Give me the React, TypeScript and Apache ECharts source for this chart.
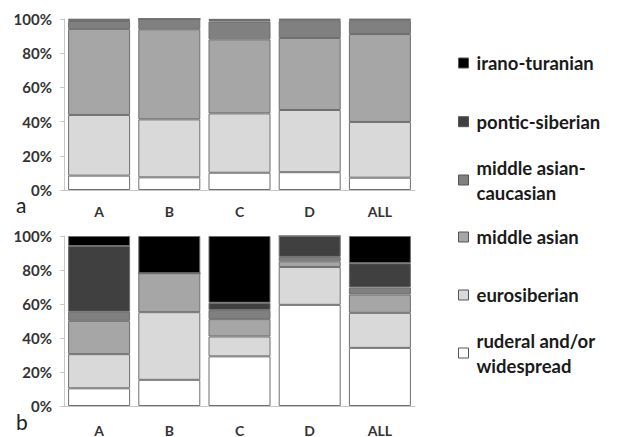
import React, { useEffect, useRef } from "react";
import * as echarts from "echarts";

const categories = ["A", "B", "C", "D", "ALL"];
const seriesNames = [
  "ruderal and/or widespread",
  "eurosiberian",
  "middle asian",
  "middle asian-caucasian",
  "pontic-siberian",
  "irano-turanian",
];
const legendLabels = [
  "ruderal and/or\nwidespread",
  "eurosiberian",
  "middle asian",
  "middle asian-\ncaucasian",
  "pontic-siberian",
  "irano-turanian",
];
const seriesColors = ["#ffffff", "#d9d9d9", "#a6a6a6", "#808080", "#404040", "#000000"];

// panel a
const aRuderal = [8.4, 7.4, 10.1, 10.4, 7.2];
const aEuro = [35.5, 33.9, 34.7, 36.4, 32.6];
const aMidAsian = [50.3, 52.7, 43.3, 42.1, 51.4];
const aMidCauc = [4.6, 6.0, 10.4, 10.1, 7.8];
const aPontic = [0.8, 0, 1.0, 0.7, 0.7];
const aIrano = [0.4, 0, 0.5, 0.3, 0.3];

// panel b
const bRuderal = [10.4, 15.4, 29.2, 59.5, 34.2];
const bEuro = [20.1, 39.8, 11.7, 22.3, 20.6];
const bMidAsian = [19.6, 22.9, 10.2, 3.3, 10.8];
const bMidCauc = [5.3, 0, 5.3, 2.6, 4.1];
const bPontic = [38.7, 0, 4.3, 12.3, 14.3];
const bIrano = [5.9, 21.9, 39.3, 0, 16.0];

const panelA = [aRuderal, aEuro, aMidAsian, aMidCauc, aPontic, aIrano];
const panelB = [bRuderal, bEuro, bMidAsian, bMidCauc, bPontic, bIrano];

const yTicks = [0, 20, 40, 60, 80, 100];

const FONT = "Lato";

export default function App() {
  const ref = useRef<HTMLDivElement>(null);
  useEffect(() => {
    if (!ref.current) return;
    const chart = echarts.init(ref.current, null, { renderer: "svg" });

    const mkX = (gridIndex: number, margin: number) => ({
      type: "category",
      gridIndex,
      data: categories,
      axisLine: { show: true, lineStyle: { color: "#c8c8c8", width: 1 } },
      axisTick: { show: false },
      axisLabel: {
        margin,
        color: "#333",
        fontFamily: FONT,
        fontWeight: "bold",
        fontSize: 14,
      },
    });
    const mkY = (gridIndex: number) => ({
      type: "value",
      gridIndex,
      min: yTicks[0],
      max: yTicks[yTicks.length - 1],
      interval: 20,
      axisLine: { show: true, lineStyle: { color: "#c8c8c8", width: 1 } },
      axisTick: { show: true, length: 4, lineStyle: { color: "#c8c8c8" } },
      splitLine: { show: false },
      axisLabel: {
        formatter: "{value}%",
        margin: 12,
        color: "#333",
        fontFamily: FONT,
        fontWeight: "bold",
        fontSize: 15,
      },
    });

    const mkSeries = (panel: number[][], idx: number, stack: string) =>
      panel.map((vals, i) => ({
        name: seriesNames[i],
        type: "bar",
        stack,
        xAxisIndex: idx,
        yAxisIndex: idx,
        barWidth: 62,
        data: vals,
        itemStyle: {
          color: seriesColors[i],
          borderColor: "#6e6e6e",
          borderWidth: 1,
        },
      }));

    const legendCenters = [353, 295, 237, 180, 121.7, 63];
    const legends = seriesNames.map((name, i) => {
      const twoLine = legendLabels[i].includes("\n");
      return {
        data: [name],
        left: 458,
        top: twoLine ? legendCenters[i] - 37.5 : legendCenters[i] - 12.5,
        padding: 0,
        icon: "rect",
        itemWidth: 10,
        itemHeight: 10,
        selectedMode: false,
        formatter: () => legendLabels[i],
        textStyle: {
          fontFamily: FONT,
          fontWeight: "bold",
          fontSize: 18.5,
          color: "#1a1a1a",
          lineHeight: 25,
          padding: twoLine ? [25, 0, 0, 3] : [0, 0, 0, 3],
        },
        itemStyle: { borderColor: "#555", borderWidth: 1 },
      };
    });

    chart.setOption({
      animation: false,
      backgroundColor: "#ffffff",
      grid: [
        { left: 64, top: 19, width: 351, height: 171 },
        { left: 64, top: 236, width: 351, height: 170 },
      ],
      xAxis: [mkX(0, 14), mkX(1, 17)],
      yAxis: [mkY(0), mkY(1)],
      legend: legends,
      graphic: [
        {
          type: "text",
          left: 16,
          top: 194,
          style: { text: "a", fontFamily: FONT, fontSize: 21, fill: "#222" },
        },
        {
          type: "text",
          left: 16,
          top: 411,
          style: { text: "b", fontFamily: FONT, fontSize: 21, fill: "#222" },
        },
      ],
      series: [...mkSeries(panelA, 0, "a"), ...mkSeries(panelB, 1, "b")],
    });
    return () => chart.dispose();
  }, []);
  return (
    <div
      ref={ref}
      style={{ position: "fixed", left: 0, top: 0, width: 619, height: 437 }}
    />
  );
}
